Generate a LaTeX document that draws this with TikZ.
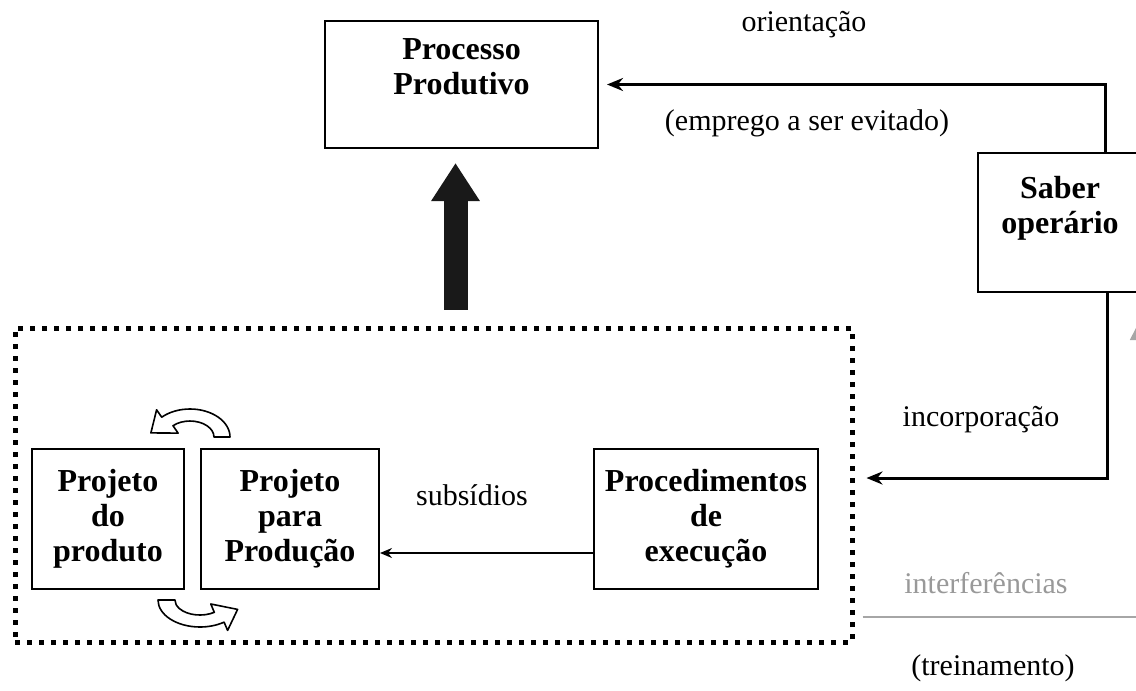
\documentclass[tikz,border=0pt]{standalone}
\usepackage{fontspec}
\setmainfont{Liberation Serif}
\usetikzlibrary{positioning, arrows.meta}

\tikzset{
	bloco/.style={draw, line width=1pt, align=center, inner sep=0pt, font=\bfseries\fontsize{16}{17.5}\selectfont},
	rotulo/.style={font=\fontsize{15}{18}\selectfont, inner sep=0pt},
	moldura/.style={draw, line width=2.5pt, dash pattern=on 2.5pt off 3.5pt},
	seta/.style={line width=1.5pt, -{Stealth[length=8pt,width=6.5pt]}},
	setafina/.style={line width=0.75pt, -{Stealth[length=6pt,width=5pt]}},
	setagrossa/.style={line width=12pt, black!90, -{Triangle[length=19pt,width=23pt]}, shorten <=8pt, shorten >=7pt},
	linhacinza/.style={draw=black!35, line width=0.8pt, -{Triangle[length=9pt,width=9pt]}, shorten <=4pt},
	giro/.style={line width=0.8pt, fill=white, line join=round},
}

\begin{document}
\begin{tikzpicture}[x=0.5pt, y=-0.5pt]
	\clip (0,0) rectangle (1136,691);

	% caixas
	\node[bloco, minimum width=136.5pt, minimum height=63.5pt] (pp) at (461.5,84.5) {Processo\\Produtivo\\\mbox{}};
	\node[bloco, minimum width=82pt, minimum height=69.5pt] (so) at (1060,222.5) {Saber\\operário\\\mbox{}};
	\node[bloco, minimum width=76pt, minimum height=70pt] (pd) at (108,519) {Projeto\\do\\produto};
	\node[bloco, minimum width=89pt, minimum height=70pt, right=7.5pt of pd] (ppr) {Projeto\\para\\Produção};
	\node[bloco, minimum width=112pt, minimum height=70pt, right=106.5pt of ppr] (pe) {Procedimentos\\de\\execução};
	\node[moldura, minimum width=418.5pt, minimum height=157pt] (mold) at (433.5,485) {};

	% textos
	\node[rotulo] (ori) at (804,25) {orientação};
	\node[rotulo] (emp) at (807,123) {(emprego a ser evitado)};
	\node[rotulo] (sub) at (472,495) {subsídios};
	\node[rotulo] (inc) at (981,420) {incorporação};
	\node[rotulo, text=black!40] (intf) at (986,583) {interferências};
	\node[rotulo] (trei) at (993,668) {(treinamento)};

	\coordinate (cinza) at (1139,617);
	\coordinate (cinzatopo) at (1139,322);

	% setas
	\draw[setagrossa] ([xshift=-3pt]pp.south |- mold.north) -- ([xshift=-3pt]pp.south);
	\draw[seta, shorten >=4pt] ([xshift=22.5pt]so.north) |- (pp.east);
	\draw[seta, shorten >=6pt] ([xshift=23.5pt]so.south) |- ([yshift=3.5pt]mold.east);
	\draw[setafina] ([yshift=-17pt]pe.west) -- ([yshift=-17pt]pe.west -| ppr.east);
	\draw[linhacinza] (mold.east |- cinza) -- (cinza) -- (cinzatopo);

	% setas curvas
	\draw[giro] (230,437) arc[start angle=0, end angle=-135, x radius=40, y radius=28]
		-- (156.6,409.8) -- (150.9,432.9) -- (178.1,433.1) -- (173,425.7)
		arc[start angle=-135, end angle=0, x radius=24, y radius=16] -- cycle;
	\draw[giro] (158,600) arc[start angle=180, end angle=55, x radius=42, y radius=27]
		-- (227.6,630.4) -- (237.6,609.4) -- (210.8,604) -- (214.3,612.3)
		arc[start angle=55, end angle=180, x radius=25, y radius=15] -- cycle;
\end{tikzpicture}
\end{document}
